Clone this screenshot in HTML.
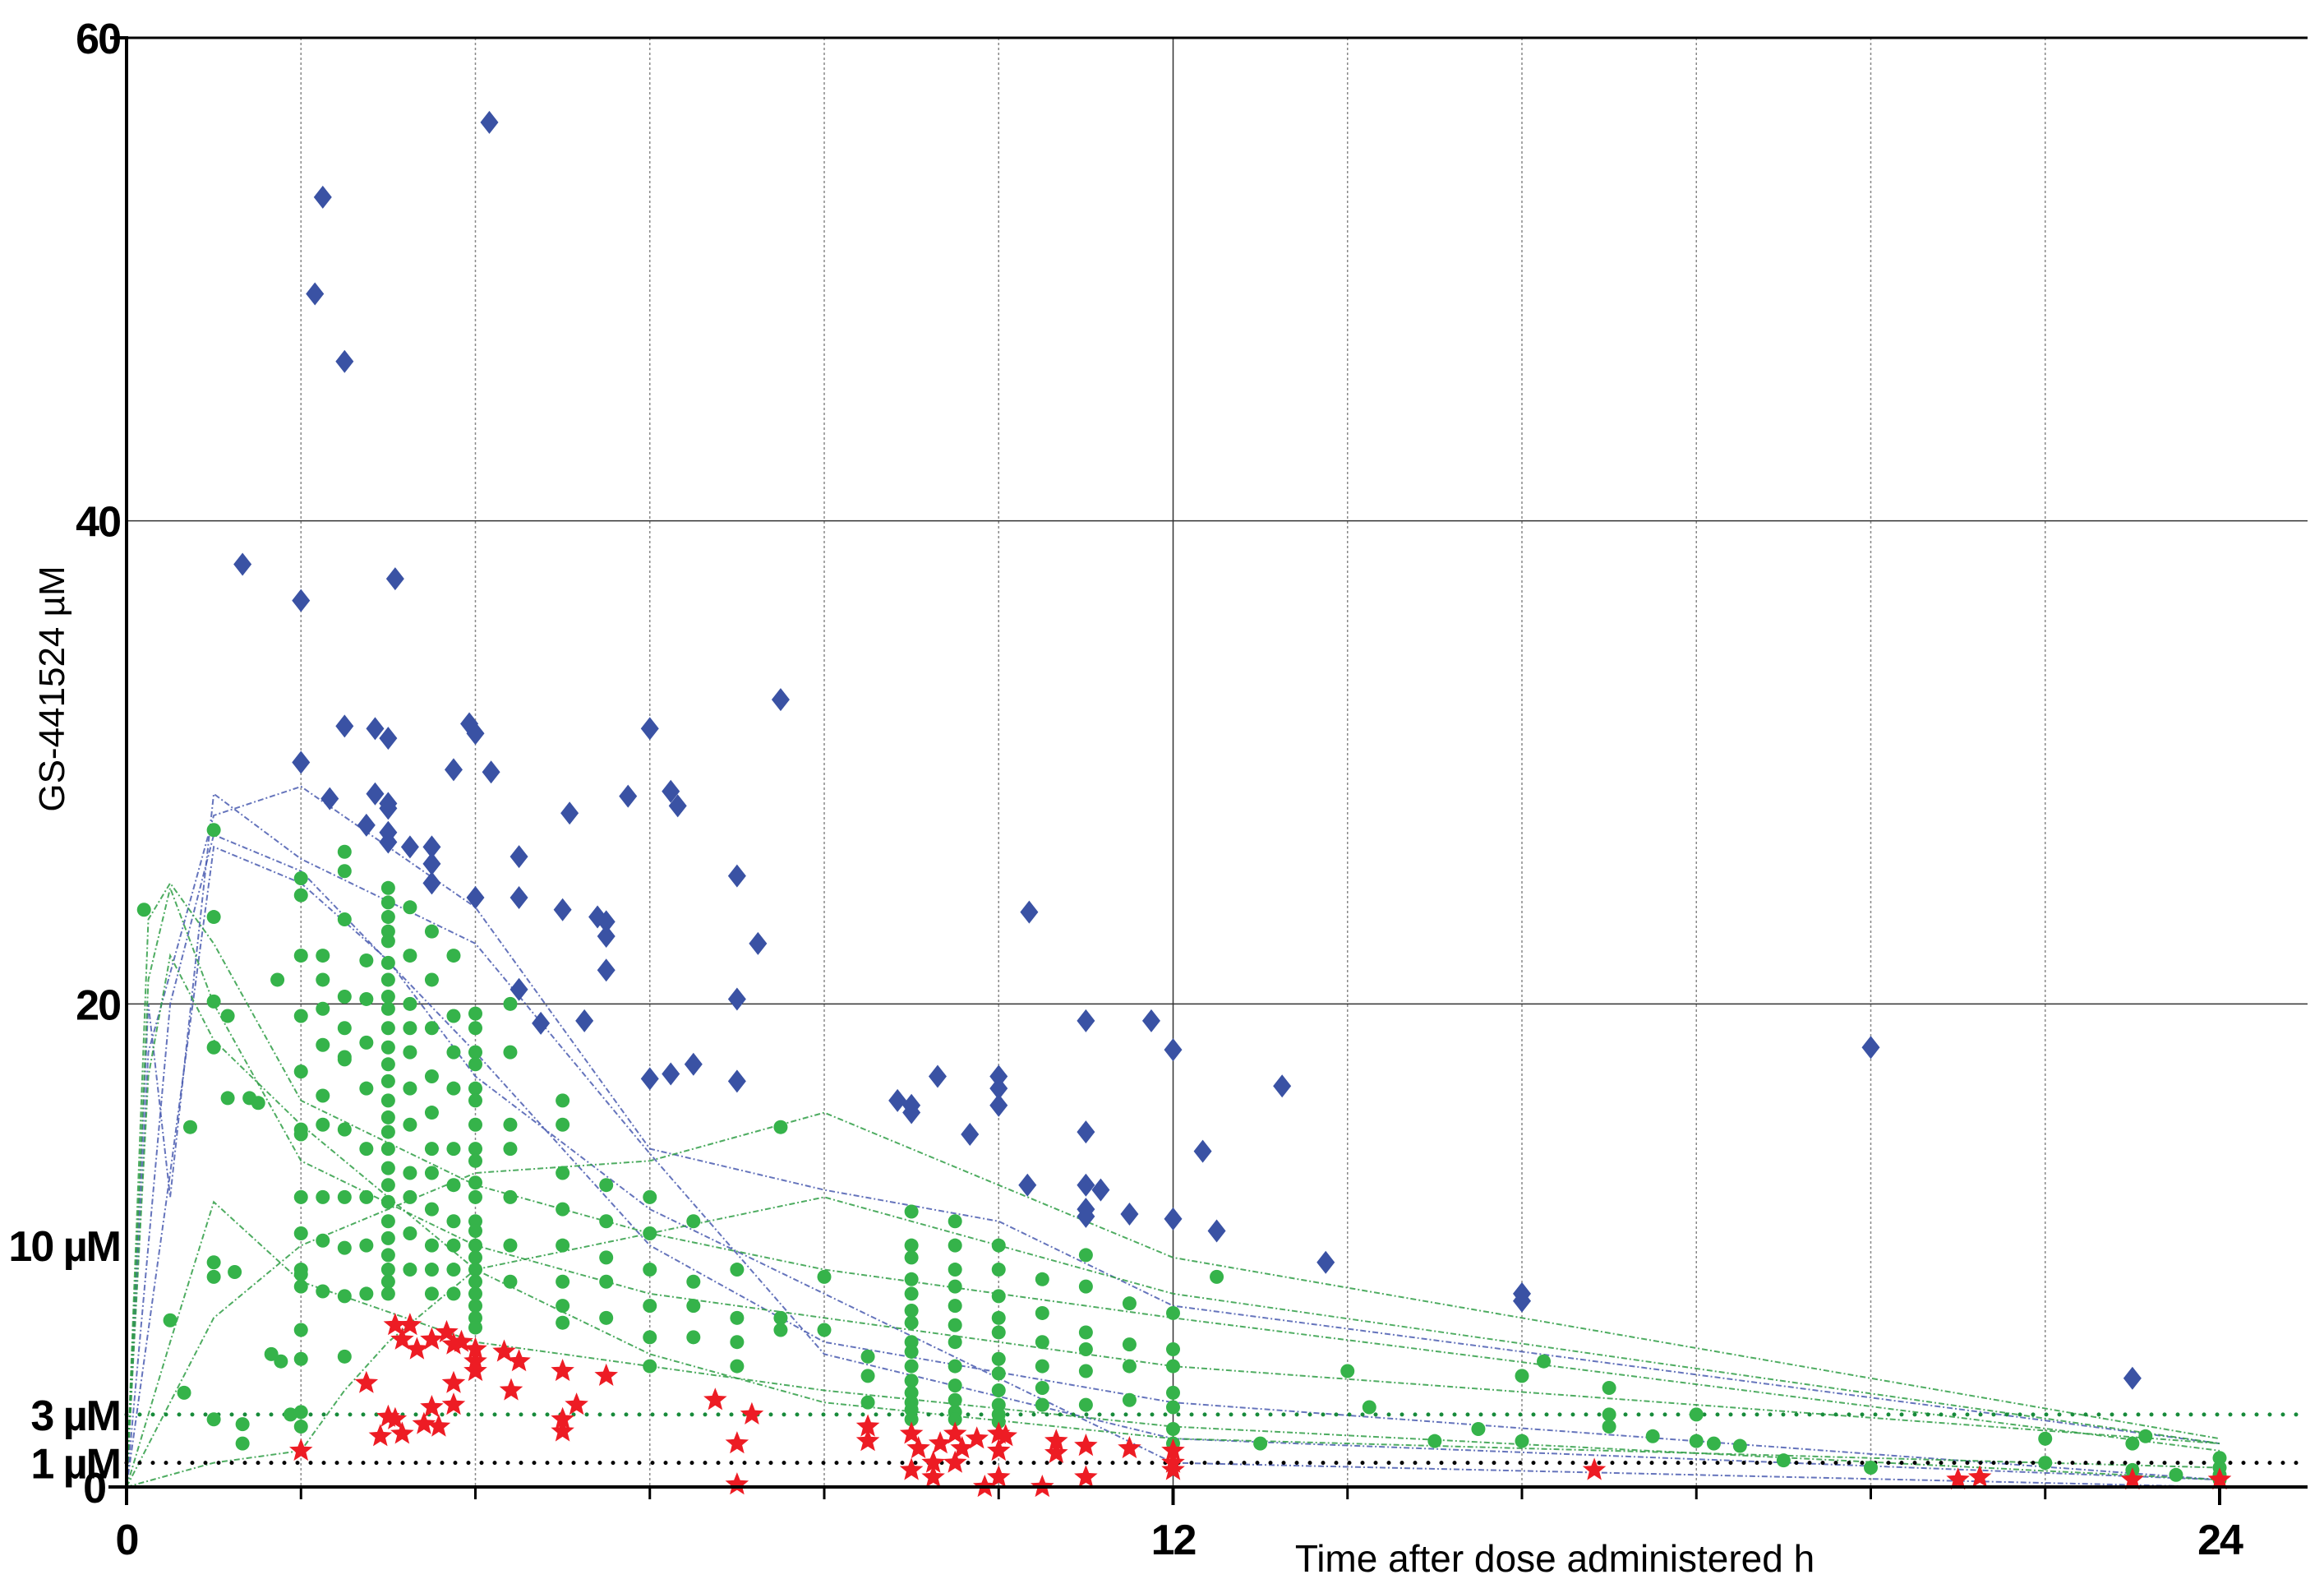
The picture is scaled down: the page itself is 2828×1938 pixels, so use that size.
<!DOCTYPE html>
<html><head><meta charset="utf-8"><style>
html,body{margin:0;padding:0;background:#fff;}
svg{display:block;font-family:"Liberation Sans",Arial,sans-serif;}
</style></head><body>
<svg id="chart" width="2828" height="1938" viewBox="0 0 2828 1938" xmlns="http://www.w3.org/2000/svg">
<g id="grid"></g>
<g id="lines"></g>
<g id="refs"></g>
<g id="marks"></g>
<g id="axes"></g>
<text x="1892" y="1912" font-size="46" text-anchor="middle" fill="#000">Time after dose administered h</text>
<text transform="translate(78,838) rotate(-90)" font-size="44" text-anchor="middle" fill="#000">GS-441524 µM</text>
</svg>
<script>
const xTicksMajor = [0, 12, 24];
const xTicksMinor = [2, 4, 6, 8, 10, 14, 16, 18, 20, 22];
const yGrid = [20, 40, 60];
const yTickValues = [0, 1, 3, 10, 20, 40, 60];
const yTickLabels = ["0", "1 µM", "3 µM", "10 µM", "20", "40", "60"];
const thresholds = [3, 1];

const blueT = [1.33,2,2,2.16,2.25,2.5,2.5,2.33,2.75,2.85,2.85,3,3,3,3,3,3.08,3.25,3.5,3.5,3.5,3.75,3.93,4,4,4.18,4.16,4.5,4.5,4.5,4.75,5,5.08,5.25,5.4,5.5,5.5,5.5,5.75,6,6,6.24,6.32,6.24,6.5,7,7,7,7.24,7.5,8.84,9,9,9.3,9.67,10,10,10,10.35,10.33,11,11,11,11,11,11.17,11.5,11.75,12,12,12.34,12.5,13.25,13.75,16,16,20,23];
const blueC = [38.2,36.7,30,49.4,53.4,46.6,31.5,28.5,27.4,31.4,28.7,31,28.3,28.1,27.1,26.7,37.6,26.5,26.5,25.8,25,29.7,31.6,31.2,24.4,29.6,56.5,26.1,24.4,20.6,19.2,23.9,27.9,19.3,23.6,23.4,22.8,21.4,28.6,31.4,16.9,28.8,28.2,17.1,17.5,25.3,20.2,16.8,22.5,32.6,16,15.8,15.5,17,14.6,17,16.5,15.8,23.8,12.5,19.3,14.7,12.5,11.5,11.2,12.3,11.3,19.3,18.1,11.1,13.9,10.6,16.6,9.3,8,7.7,18.2,4.5];

const greenT = [0.2,0.5,0.66,0.73,1,1,1,1,1,1,1,1.16,1.16,1.24,1.33,1.33,1.41,1.51,1.73,1.66,1.77,1.88,
2,2,2,2,2,2,2,2,2,2,2,2,2,2,2,2,
2.25,2.25,2.25,2.25,2.25,2.25,2.25,2.25,2.25,
2.5,2.5,2.5,2.5,2.5,2.5,2.5,2.5,2.5,2.5,2.5,2.5,
2.75,2.75,2.75,2.75,2.75,2.75,2.75,2.75,
3,3,3,3,3,3,3,3,3,3,3,3,3,3,3,3,3,3,3,3,3,3,3,3,3,3,
3.25,3.25,3.25,3.25,3.25,3.25,3.25,3.25,3.25,3.25,3.25,
3.5,3.5,3.5,3.5,3.5,3.5,3.5,3.5,3.5,3.5,3.5,
3.75,3.75,3.75,3.75,3.75,3.75,3.75,3.75,3.75,3.75,
4,4,4,4,4,4,4,4,4,4,4,4,4,4,4,4,4,4,4,4,4,
4.4,4.4,4.4,4.4,4.4,4.4,4.4,
5,5,5,5,5,5,5,5,
5.5,5.5,5.5,5.5,5.5,
6,6,6,6,6,6,
6.5,6.5,6.5,6.5,
7,7,7,7,
7.5,7.5,7.5,8,8,8.5,8.5,8.5,
9,9,9,9,9,9,9,9,9,9,9,9,9,9,9,
9.5,9.5,9.5,9.5,9.5,9.5,9.5,9.5,9.5,9.5,9.5,9.5,
10,10,10,10,10,10,10,10,10,10,10,
10.5,10.5,10.5,10.5,10.5,10.5,
11,11,11,11,11,11,
11.5,11.5,11.5,11.5,
12,12,12,12,12,12,12,
12.5,13,14,14.25,15,15.5,16,16,16.25,17,17,17,17.5,18,18,18.2,18.5,19,20,22,22,23,23,23.15,23.5,24,24,24,24];
const greenC = [23.9,6.9,3.9,14.9,27.2,23.6,20.1,18.2,9.3,8.7,2.8,19.5,16.1,8.9,2.6,1.8,16.1,15.9,21,5.5,5.2,3,
25.2,24.5,22,19.5,17.2,14.8,14.6,12,10.5,9,8.8,8.3,6.5,5.3,3.1,2.5,
22,21,19.8,18.3,16.2,15,12,10.2,8.1,
26.3,25.5,23.5,20.3,19,17.7,17.8,14.8,12,9.9,7.9,5.4,
21.8,20.2,18.4,16.5,14,12,10,8,
24.8,24.2,23.6,23,22.6,21.7,21,20.3,19.8,19,18.2,17.5,16.8,16,15.3,14.7,14,13.2,12.5,11.8,11,10.3,9.6,9,8.5,8,
24,22,20,19,18,16.5,15,13,12,10.5,9,
23,21,19,17,15.5,14,13,11.5,10,9,8,
22,19.5,18,16.5,14,12.5,11,10,9,8,
19.6,19,18,17.5,16.5,16,15,14,13.5,12.6,12,11,10.6,10,9.5,9,8.5,8,7.5,7,6.6,
20,18,15,14,12,10,8.5,
16,15,13,11.5,10,8.5,7.5,6.8,
12.5,11,9.5,8.5,7,
12,10.5,9,7.5,6.2,5,
11,8.5,7.5,6.2,
9,7,6,5,
14.9,7,6.5,8.7,6.5,5.4,4.6,3.5,
11.4,10,9.5,8.6,8,7.3,6.8,6,5.6,5,4.4,3.9,3.5,3.2,2.8,
11,10,9,8.3,7.5,6.7,6,5,4.2,3.6,3.1,2.8,
10,9,7.9,7,6.4,5.3,4.7,4,3.4,3,2.7,
8.6,7.2,6,5,4.1,3.4,
9.6,8.3,6.4,5.7,4.8,3.4,
7.6,5.9,5,3.6,
7.2,5.7,5,3.9,3.3,2.4,1.8,
8.7,1.8,4.8,3.3,1.9,2.4,4.6,1.9,5.2,3,2.5,4.1,2.1,3,1.9,1.8,1.7,1.1,0.8,2,1,1.8,0.7,2.1,0.5,1.2,0.8,0.5,0.3];

const redT = [2,2.75,3.08,3.25,3.16,3.33,3,3.16,2.91,3.08,3.5,3.67,3.75,3.5,3.41,3.58,3.75,3.75,3.84,4,4,4,4.33,4.5,4.41,5,5,5,5.16,5.5,6.75,7,7,7.17,8.5,8.5,9,9.08,9,9.25,9.25,9.33,9.5,9.58,9.5,9.75,9.84,10,10,10,10.08,10.5,10.66,10.66,11,11,11.5,12,12,12,16.83,21,21.25,23,24];
const redC = [1.5,4.3,6.7,6.7,6.1,5.7,2.9,2.2,2.1,2.8,6.1,6.4,5.9,3.3,2.6,2.5,4.3,3.4,6,5.7,5.2,4.8,5.6,5.2,4,4.8,2.8,2.3,3.4,4.6,3.6,1.8,0.1,3,2.5,1.9,2.2,1.6,0.7,1,0.4,1.8,2.2,1.6,1,2,0,2.2,1.5,0.4,2.1,0,1.9,1.4,1.7,0.4,1.6,1.5,1,0.7,0.7,0.3,0.4,0.3,0.3];

const profileT = [
 [0,0.25,0.5,1,2,4,6,8,12,24],
 [0,0.25,1,2,4,6,8,10,12,24],
 [0,0.5,1,2,4,6,8,12,24],
 [0,0.5,1,2,3,4,6,12,24],
 [0,0.25,0.5,1,2,4,6,8,12,24],
 [0,0.25,0.5,1,2,4,6,12,24],
 [0,0.5,1,2,4,8,12,24],
 [0,1,2,4,6,8,12,24],
 [0,1,2,2.5,3,4,6,8,12,24],
 [0,0.25,0.5,1,2,4,6,8,12,24]
];
const profileC = [
 [0,20,12,28.7,26,22.5,13.8,5.5,2,0.3],
 [0,18,27.8,29,24,14,12.3,11,7.5,1.8],
 [0,20,27,25.5,18,10,6,3.5,0.3],
 [0,13,26.5,25,21.8,17,11.5,1,0],
 [0,23.5,25,22.5,16,12.5,10.5,9,7,1.5],
 [0,21,24.8,20,13.5,10,8,5,1.8],
 [0,6,11.8,8.5,6,4,2.5,0.3],
 [0,7,10,13,13.5,15.5,9.5,2],
 [0,1,1.5,4,6,9,10.5,12,8,1.8],
 [0,17,22,18.5,15,9,5.5,3.5,2,0.8]
];
const profileGroup = ["blue","blue","blue","blue","green","green","green","green","green","green"];

const NS = "http://www.w3.org/2000/svg";
const X0 = 154, X1 = 2701, Y0 = 1809, Y1 = 46, XEND = 2808;
function xs(h){ return X0 + (X1 - X0) * h / 24; }
function ys(v){ return Y0 - (Y0 - Y1) * v / 60; }
function mk(tag, attrs, parent){ const e = document.createElementNS(NS, tag); for (const k in attrs) e.setAttribute(k, attrs[k]); parent.appendChild(e); return e; }

const grid = document.getElementById('grid');
for (const h of xTicksMinor) {
  const l = mk('line', {x1: xs(h), x2: xs(h), y1: Y1, y2: Y0, stroke: '#888', 'stroke-width': 1.5, 'stroke-dasharray': '3,3'}, grid);
  
  
}
{
  const l = mk('line', {x1: xs(12), x2: xs(12), y1: Y1, y2: Y0, stroke: '#333', 'stroke-width': 1.5}, grid);
  
  
}
for (const v of yGrid) {
  const l = mk('line', {x1: X0, x2: XEND, y1: ys(v), y2: ys(v), stroke: v === 60 ? '#000' : '#333', 'stroke-width': v === 60 ? 3 : 1.5}, grid);
  
  
}

const lines = document.getElementById('lines');
profileT.forEach((ts, i) => {
  const pts = ts.map((t, j) => xs(t).toFixed(1) + ',' + ys(profileC[i][j]).toFixed(1)).join(' ');
  const col = profileGroup[i] === 'blue' ? '#4a5cb0' : '#2f9e45';
  const pl = mk('polyline', {points: pts, fill: 'none', stroke: col, 'stroke-width': 2, 'stroke-dasharray': '7,3,2,3', opacity: 0.85}, lines);
  
  
});

const refs = document.getElementById('refs');
thresholds.forEach(v => {
  const l = mk('line', {x1: X0, x2: XEND, y1: ys(v), y2: ys(v), stroke: v === 3 ? '#178a3a' : '#000', 'stroke-width': 5, 'stroke-linecap': 'round', 'stroke-dasharray': '0,16'}, refs);
  
  
});

const marks = document.getElementById('marks');
greenT.forEach((t, i) => {
  const c = mk('circle', {cx: xs(t), cy: ys(greenC[i]), r: 8.5, fill: '#35b34a'}, marks);
  
  
});
blueT.forEach((t, i) => {
  const x = xs(t), y = ys(blueC[i]);
  const d = mk('polygon', {points: `${x},${y-14} ${x+11},${y} ${x},${y+14} ${x-11},${y}`, fill: '#3a52a4'}, marks);
  
  
});
function star(x, y, R, r){ let p = []; for (let k = 0; k < 10; k++){ const a = -Math.PI/2 + k*Math.PI/5; const rr = k%2 ? r : R; p.push((x+rr*Math.cos(a)).toFixed(1)+','+(y+rr*Math.sin(a)).toFixed(1)); } return p.join(' '); }
redT.forEach((t, i) => {
  const s = mk('polygon', {points: star(xs(t), ys(redC[i]), 15, 6.5), fill: '#ed1c24'}, marks);
  
  
});

const axes = document.getElementById('axes');
{
  const a = mk('line', {x1: X0, x2: X0, y1: Y1 - 2, y2: Y0 + 22, stroke: '#000', 'stroke-width': 4}, axes);
  
  
  const b = mk('line', {x1: X0 - 22, x2: XEND, y1: Y0, y2: Y0, stroke: '#000', 'stroke-width': 4}, axes);
  
  
  const t60 = mk('line', {x1: X0 - 20, x2: X0, y1: Y1, y2: Y1, stroke: '#000', 'stroke-width': 4}, axes);
  
  
}
xTicksMajor.forEach(h => {
  const tk = mk('line', {x1: xs(h), x2: xs(h), y1: Y0, y2: Y0 + 22, stroke: '#000', 'stroke-width': 4}, axes);
  
  
  const tx = mk('text', {x: xs(h), y: Y0 + 82, 'font-size': 52, 'font-weight': 'bold', 'text-anchor': 'middle', fill: '#000', 'letter-spacing': -2}, axes);
  tx.textContent = String(h);
  
  
});
xTicksMinor.forEach(h => {
  const tk = mk('line', {x1: xs(h), x2: xs(h), y1: Y0, y2: Y0 + 15, stroke: '#000', 'stroke-width': 3}, axes);
  
  
});
yTickValues.forEach((v, i) => {
  const tx = mk('text', {x: v === 0 ? 128 : 146, y: ys(v) + 19, 'font-size': 52, 'font-weight': 'bold', 'text-anchor': 'end', fill: '#000', 'letter-spacing': -2}, axes);
  tx.textContent = yTickLabels[i];
  
  
});
</script>
</body></html>
